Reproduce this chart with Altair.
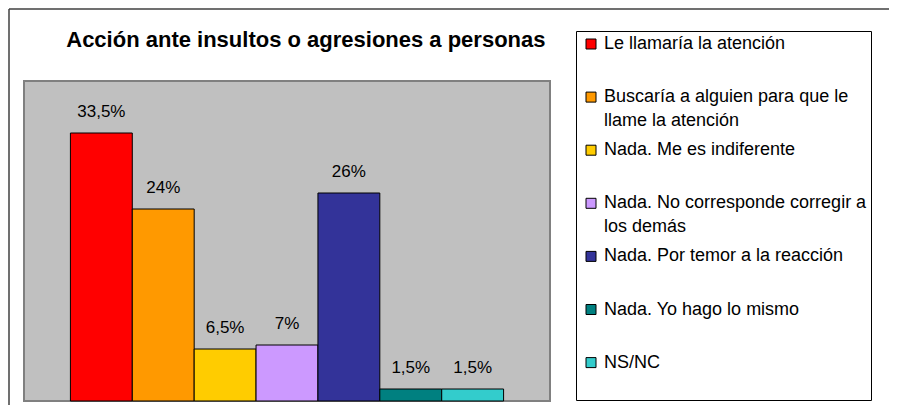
import json
import altair as alt
import pandas as pd

# ---- data ----
categories = [
    "Le llamaría la atención",
    "Buscaría a alguien para que le llame la atención",
    "Nada. Me es indiferente",
    "Nada. No corresponde corregir a los demás",
    "Nada. Por temor a la reacción",
    "Nada. Yo hago lo mismo",
    "NS/NC",
]
values = [33.5, 24, 6.5, 7, 26, 1.5, 1.5]
colors = ["#FF0000", "#FF9900", "#FFCC00", "#CC99FF", "#333399", "#008080", "#33CCCC"]
legend_lines = [
    ["Le llamaría la atención", ""],
    ["Buscaría a alguien para que le", "llame la atención"],
    ["Nada. Me es indiferente", ""],
    ["Nada. No corresponde corregir a", "los demás"],
    ["Nada. Por temor a la reacción", ""],
    ["Nada. Yo hago lo mismo", ""],
    ["NS/NC", ""],
]
grid_values = [5, 10, 15, 20, 25, 30, 35]
title_text = "Acción ante insultos o agresiones a personas"

df = pd.DataFrame({"categoria": categories, "valor": values})

label_expr = "datum.label"
for cat, lines in reversed(list(zip(categories, legend_lines))):
    label_expr = (
        f"datum.label == {json.dumps(cat, ensure_ascii=False)} ? "
        f"{json.dumps(lines, ensure_ascii=False)} : ({label_expr})"
    )

FONT = "Liberation Sans"

x_enc = alt.X(
    "categoria:N",
    sort=categories,
    axis=None,
    scale=alt.Scale(paddingInner=0, paddingOuter=0.75),
)
y_scale = alt.Scale(domain=[0, 40], nice=False, zero=True)

bars = alt.Chart(df).mark_bar(stroke="black", strokeWidth=1).encode(
    x=x_enc,
    y=alt.Y(
        "valor:Q",
        scale=y_scale,
        axis=alt.Axis(
            values=grid_values,
            labels=False,
            ticks=False,
            domain=False,
            title=None,
            grid=True,
            gridColor="#222222",
            gridWidth=1,
        ),
    ),
    color=alt.Color(
        "categoria:N",
        sort=categories,
        scale=alt.Scale(domain=categories, range=colors),
        legend=alt.Legend(
            orient="none",
            legendX=552,
            legendY=-50,
            title=None,
            direction="vertical",
            symbolType="square",
            symbolSize=100,
            symbolStrokeColor="black",
            symbolStrokeWidth=1,
            symbolOpacity=1,
            symbolOffset=2,
            labelOffset=4,
            labelFont=FONT,
            labelFontSize=18,
            labelColor="black",
            labelLimit=400,
            labelExpr=label_expr,
            rowPadding=11.1,
            padding=4,
            strokeColor="black",
            fillColor="white",
        ),
    ),
)

labels = (
    alt.Chart(df)
    .transform_calculate(
        etiqueta="replace(format(datum.valor, '.1~f'), '.', ',') + '%'"
    )
    .mark_text(font=FONT, fontSize=17, baseline="middle", dy=-21, color="black")
    .encode(
        x=x_enc,
        y=alt.Y("valor:Q", scale=y_scale, axis=None),
        text="etiqueta:N",
    )
)

frame_df = pd.DataFrame({"k": [0]})
frame_left = alt.Chart(frame_df).mark_rule(color="#404040", strokeWidth=1.5).encode(
    x=alt.value(-15), y=alt.value(-72), y2=alt.value(420)
)
frame_top = alt.Chart(frame_df).mark_rule(color="#404040", strokeWidth=1.5).encode(
    x=alt.value(-15), x2=alt.value(900), y=alt.value(-72)
)

chart = (
    alt.layer(frame_left, frame_top, bars, labels)
    .properties(
        width=526,
        height=320,
        padding={"left": 16, "top": 73, "right": 339, "bottom": 4},
        autosize=alt.AutoSizeParams(type="none"),
        background="white",
        title=alt.Title(
            text=title_text,
            font=FONT,
            fontSize=22,
            fontWeight="bold",
            color="black",
            anchor="start",
            baseline="alphabetic",
            offset=-61,
            dx=58,
        ),
    )
    .configure(
        view={"fill": "#C0C0C0", "stroke": "#808080", "strokeWidth": 2},
        style={"guide-label": {"lineHeight": 24}},
    )
)

chart.save("out.html", embed_options={"renderer": "svg", "actions": False})
